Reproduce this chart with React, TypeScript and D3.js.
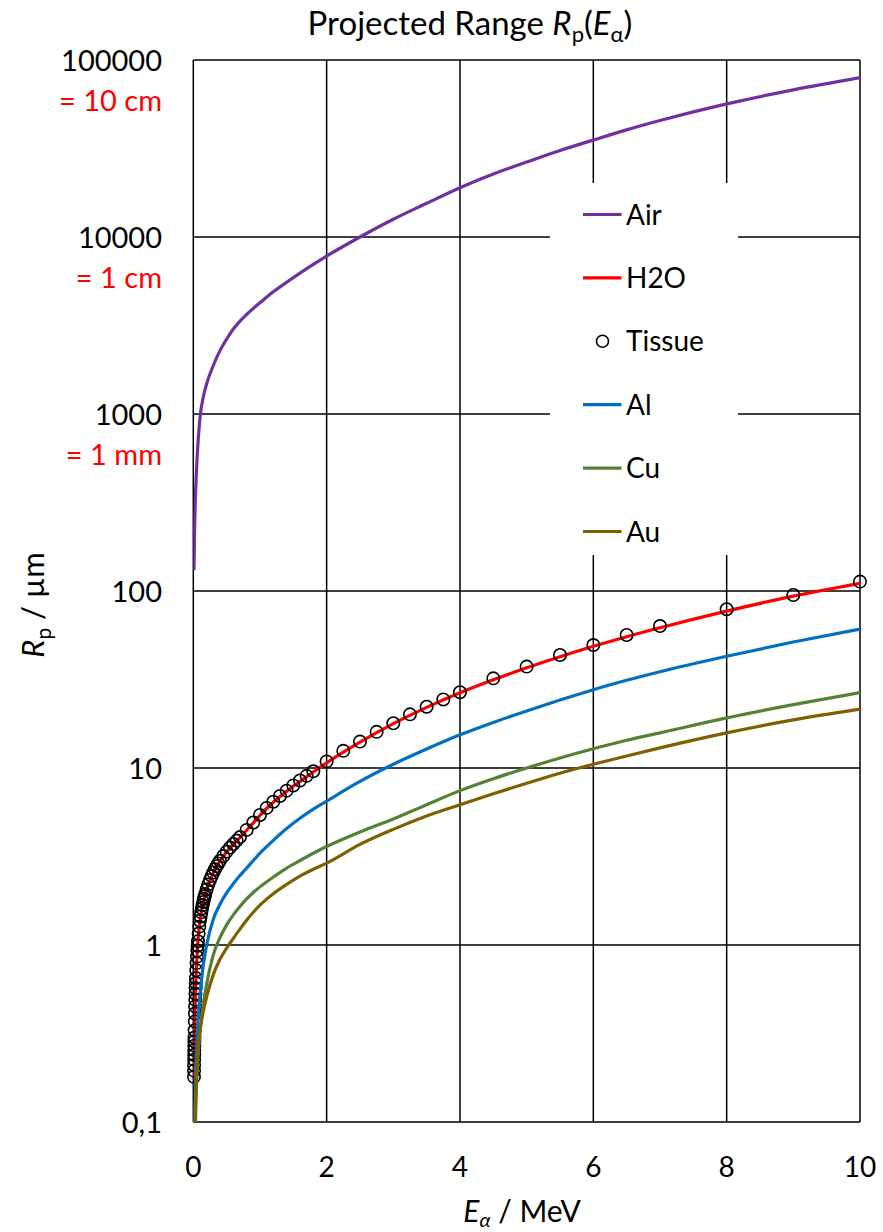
import React from "react";
import * as d3 from "d3";

// ---- data (energies in MeV, projected ranges in µm) ----
const energyFine = [
  0.01, 0.011, 0.012, 0.013, 0.014, 0.015, 0.016, 0.017, 0.018, 0.02,
  0.0225, 0.025, 0.0275, 0.03, 0.0325, 0.035, 0.0375, 0.04, 0.045, 0.05,
  0.055, 0.06, 0.065, 0.07, 0.08, 0.09, 0.1, 0.11, 0.12, 0.13,
  0.14, 0.15, 0.16, 0.17, 0.18, 0.2, 0.225, 0.25, 0.275, 0.3,
  0.325, 0.35, 0.375, 0.4, 0.45, 0.5, 0.55, 0.6, 0.65, 0.7,
  0.8, 0.9, 1.0, 1.1, 1.2, 1.3, 1.4, 1.5, 1.6, 1.7,
  1.8, 2.0, 2.25, 2.5, 2.75, 3.0, 3.25, 3.5, 3.75, 4.0,
  4.5, 5.0, 5.5, 6.0, 6.5, 7.0, 8.0, 9.0, 10.0,
];
const tissue = [
  0.18, 0.195, 0.21, 0.225, 0.24, 0.255, 0.27, 0.285, 0.3, 0.33,
  0.37, 0.41, 0.45, 0.49, 0.53, 0.57, 0.61, 0.65, 0.72, 0.79,
  0.86, 0.93, 0.99, 1.05, 1.16, 1.27, 1.37, 1.45, 1.53, 1.61,
  1.68, 1.75, 1.82, 1.88, 1.94, 2.06, 2.2, 2.33, 2.45, 2.57,
  2.68, 2.79, 2.89, 2.99, 3.18, 3.37, 3.55, 3.72, 3.89, 4.07,
  4.47, 4.92, 5.43, 5.95, 6.45, 6.95, 7.45, 7.97, 8.5, 9.03,
  9.58, 10.9, 12.5, 14.1, 16.0, 17.9, 20.1, 22.2, 24.4, 26.8,
  32.1, 37.4, 43.5, 49.5, 56.4, 63.4, 78.9, 94.9, 113,
];

const energyLine = [
  0.01, 0.02, 0.03, 0.05, 0.07, 0.1, 0.15, 0.2, 0.3, 0.4,
  0.5, 0.6, 0.7, 0.8, 0.9, 1.0, 1.2, 1.4, 1.6, 1.8,
  2.0, 2.5, 3.0, 3.5, 4.0, 4.5, 5.0, 5.5, 6.0, 6.5,
  7.0, 8.0, 9.0, 10.0,
];
const air = [
  131, 230, 320, 500, 680, 950, 1250, 1480, 1880, 2280,
  2650, 3020, 3350, 3650, 3950, 4250, 4900, 5550, 6250, 7000,
  7800, 10000, 12600, 15500, 19000, 22700, 26500, 30800, 35300, 40300,
  45500, 56500, 67800, 79500,
];
const water = [
  0.18, 0.33, 0.49, 0.79, 1.06, 1.36, 1.74, 2.05, 2.56, 2.98,
  3.35, 3.7, 4.05, 4.45, 4.9, 5.4, 6.4, 7.4, 8.4, 9.5,
  10.7, 14.0, 17.8, 22.0, 26.6, 31.5, 36.8, 42.5, 48.7, 55.2,
  62.0, 77.0, 93.5, 110.5,
];
const aluminium = [
  0.06, 0.11, 0.17, 0.27, 0.37, 0.52, 0.77, 1.0, 1.4, 1.7,
  1.97, 2.22, 2.47, 2.72, 3.0, 3.3, 3.9, 4.55, 5.2, 5.85,
  6.5, 8.4, 10.5, 12.8, 15.4, 18.1, 21.0, 24.2, 27.7, 31.3,
  35.0, 42.8, 51.5, 61.0,
];
const copper = [
  0.035, 0.065, 0.09, 0.17, 0.23, 0.32, 0.46, 0.6, 0.88, 1.1,
  1.3, 1.48, 1.65, 1.82, 1.98, 2.13, 2.42, 2.72, 3.0, 3.3,
  3.6, 4.35, 5.15, 6.2, 7.45, 8.7, 10.0, 11.4, 12.85, 14.35,
  15.8, 19.2, 22.8, 26.7,
];
const gold = [
  0.05, 0.09, 0.12, 0.2, 0.26, 0.33, 0.42, 0.51, 0.68, 0.83,
  0.96, 1.09, 1.23, 1.38, 1.53, 1.68, 1.95, 2.2, 2.45, 2.68,
  2.9, 3.7, 4.5, 5.35, 6.2, 7.15, 8.2, 9.35, 10.5, 11.7,
  13.0, 15.8, 18.7, 21.5,
];

const xTicks = [0, 2, 4, 6, 8, 10];
const xTickLabels = ["0", "2", "4", "6", "8", "10"];
const yTicks = [0.1, 1, 10, 100, 1000, 10000, 100000];
const yTickLabels = ["0,1", "1", "10", "100", "1000", "10000", "100000"];
const yNoteValues = [100000, 10000, 1000];
const yNoteLabels = ["= 10 cm", "= 1 cm", "= 1 mm"];

const lineSeries = [
  { name: "Air", values: air, color: "#7030A0" },
  { name: "H2O", values: water, color: "#FF0000" },
  { name: "Al", values: aluminium, color: "#0070C0" },
  { name: "Cu", values: copper, color: "#548235" },
  { name: "Au", values: gold, color: "#7F6000" },
];
const legendNames = ["Air", "H2O", "Tissue", "Al", "Cu", "Au"];
const legendColors = ["#7030A0", "#FF0000", "none", "#0070C0", "#548235", "#7F6000"];

// ---- layout ----
const W = 883;
const H = 1232;
const M = { left: 193.3, right: 860, top: 60, bottom: 1122 };
const FONT = "Lato, 'Open Sans', sans-serif";

export default function App() {
  const x = d3.scaleLinear().domain([0, 10]).range([M.left, M.right]);
  const y = d3.scaleLog().domain([0.1, 100000]).range([M.bottom, M.top]);
  const line = d3
    .line<[number, number]>()
    .x((d) => x(d[0]))
    .y((d) => y(d[1]))
    .curve(d3.curveMonotoneX);

  const order = ["Air", "H2O", "Tissue", "Al", "Cu", "Au"];
  const legend = { x: 550, y: 183, w: 188, h: 372, row0: 214.5, step: 63.4 };

  return (
    <svg
      width={W}
      height={H}
      style={{ position: "absolute", left: 0, top: 0, background: "#fff" }}
      fontFamily={FONT}
    >
      <defs>
        <clipPath id="plotClip">
          <rect x={M.left} y={M.top} width={M.right - M.left} height={M.bottom - M.top} />
        </clipPath>
      </defs>
      <rect x={0} y={0} width={W} height={H} fill="#fff" />

      {/* grid */}
      {yTicks.map((t) => (
        <line key={"gy" + t} x1={M.left} x2={M.right} y1={y(t)} y2={y(t)} stroke="#000" strokeWidth={1.5} />
      ))}
      {xTicks.map((t) => (
        <line key={"gx" + t} x1={x(t)} x2={x(t)} y1={M.top} y2={M.bottom} stroke="#000" strokeWidth={1.5} />
      ))}

      {/* series in Excel order */}
      {order.map((name) => {
        if (name === "Tissue") {
          return (
            <g key="tissue">
              {energyFine.map((e, i) => (
                <circle key={i} cx={x(e)} cy={y(tissue[i])} r={6.2} fill="none" stroke="#000" strokeWidth={1.6} />
              ))}
            </g>
          );
        }
        const s = lineSeries.find((q) => q.name === name)!;
        const pts = energyLine.map((e, i) => [e, s.values[i]] as [number, number]);
        return (
          <path
            key={name}
            d={line(pts) || ""}
            fill="none"
            stroke={s.color}
            strokeWidth={3.2}
            strokeLinejoin="round"
            clipPath="url(#plotClip)"
          />
        );
      })}

      {/* legend */}
      <rect x={legend.x} y={legend.y} width={legend.w} height={legend.h} fill="#fff" />
      {legendNames.map((n, i) => {
        const ly = legend.row0 + i * legend.step;
        return (
          <g key={"lg" + n}>
            {n === "Tissue" ? (
              <circle cx={602.5} cy={ly} r={6} fill="none" stroke="#000" strokeWidth={1.6} />
            ) : (
              <line x1={583} x2={621.5} y1={ly} y2={ly} stroke={legendColors[i]} strokeWidth={3.2} />
            )}
            <text x={626} y={ly + 10} fontSize={28} fill="#000">
              {n}
            </text>
          </g>
        );
      })}

      {/* axis tick labels */}
      {yTicks.map((t, i) => (
        <text key={"yl" + t} x={162} y={y(t) + 11} fontSize={29} textAnchor="end" fill="#000">
          {yTickLabels[i]}
        </text>
      ))}
      {yNoteValues.map((v, i) => (
        <text key={"yn" + v} x={162} y={y(v) + 51} fontSize={29} textAnchor="end" fill="#FF0000">
          {yNoteLabels[i]}
        </text>
      ))}
      {xTicks.map((t, i) => (
        <text key={"xl" + t} x={x(t)} y={1177} fontSize={28} textAnchor="middle" fill="#000">
          {xTickLabels[i]}
        </text>
      ))}

      {/* titles */}
      <text x={470} y={35} fontSize={33} textAnchor="middle" fill="#000">
        {"Projected Range "}
        <tspan fontStyle="italic">R</tspan>
        <tspan fontSize={22} dy={7}>p</tspan>
        <tspan dy={-7}>(</tspan>
        <tspan fontStyle="italic">E</tspan>
        <tspan fontSize={22} dy={7}>α</tspan>
        <tspan dy={-7}>)</tspan>
      </text>
      <text x={522} y={1222} fontSize={30} textAnchor="middle" fill="#000">
        <tspan fontStyle="italic">E</tspan>
        <tspan fontSize={20} dy={5} fontStyle="italic">α</tspan>
        <tspan dy={-5}>{" / MeV"}</tspan>
      </text>
      <text transform="translate(44,605) rotate(-90)" fontSize={31} textAnchor="middle" fill="#000">
        <tspan fontStyle="italic">R</tspan>
        <tspan fontSize={21} dy={7}>p</tspan>
        <tspan dy={-7}>{" / µm"}</tspan>
      </text>
    </svg>
  );
}
